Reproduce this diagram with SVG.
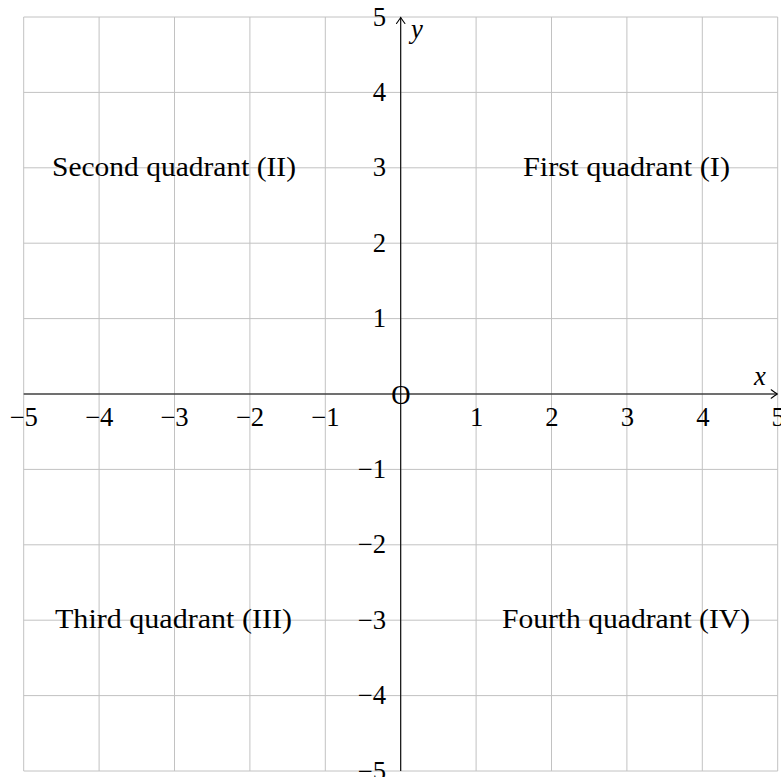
<svg xmlns="http://www.w3.org/2000/svg" width="781" height="777" viewBox="0 0 781 777">
<style>
.grid{stroke:#c2c2c2;stroke-width:1;fill:none}
.axis{stroke:#000;stroke-width:1.1;fill:none}
.t{font-family:"Liberation Serif","Times New Roman",serif;font-size:26.7px;fill:#000}
.c{text-anchor:middle}
.e{text-anchor:end}
.i{font-style:italic}
</style>
<defs>
<marker id="arr" markerUnits="userSpaceOnUse" markerWidth="12" markerHeight="12" viewBox="-8 -6 10 12" refX="0" refY="0" orient="auto">
<path d="M -6 -4.2 Q -1.5 -1 0 0 Q -1.5 1 -6 4.2" stroke="#000" stroke-width="1.1" fill="none" stroke-linecap="round"/>
</marker>
</defs>
<rect width="781" height="777" fill="#fff"/>
<g id="grid">
<path class="grid" d="M23.7 17V771M99.1 17V771M174.5 17V771M249.9 17V771M325.3 17V771M400.7 17V771M476.1 17V771M551.5 17V771M626.9 17V771M702.3 17V771M777.7 17V771"/>
<path class="grid" d="M23.7 17H777.7M23.7 92.4H777.7M23.7 167.8H777.7M23.7 243.2H777.7M23.7 318.6H777.7M23.7 394H777.7M23.7 469.4H777.7M23.7 544.8H777.7M23.7 620.2H777.7M23.7 695.6H777.7M23.7 771H777.7"/>
</g>
<g id="connectors">
<line class="axis" x1="23.7" y1="394" x2="777.2" y2="394" marker-end="url(#arr)"/>
<line class="axis" x1="400.7" y1="771" x2="400.7" y2="17.5" marker-end="url(#arr)"/>
</g>
<g id="axis-labels">
<text class="t i c" x="760" y="385">x</text>
<text class="t i c" x="417" y="38">y</text>
<text class="t c" x="401" y="403.5">O</text>
</g>
<g id="x-ticks">
<text class="t c" x="23.7" y="426">−5</text>
<text class="t c" x="99.1" y="426">−4</text>
<text class="t c" x="174.5" y="426">−3</text>
<text class="t c" x="249.9" y="426">−2</text>
<text class="t c" x="325.3" y="426">−1</text>
<text class="t c" x="476.6" y="426">1</text>
<text class="t c" x="552" y="426">2</text>
<text class="t c" x="627.4" y="426">3</text>
<text class="t c" x="702.8" y="426">4</text>
<text class="t c" x="778.2" y="426">5</text>
</g>
<g id="y-ticks">
<text class="t e" x="386" y="25.5">5</text>
<text class="t e" x="386" y="100.9">4</text>
<text class="t e" x="386" y="176.3">3</text>
<text class="t e" x="386" y="251.7">2</text>
<text class="t e" x="386" y="327.1">1</text>
<text class="t e" x="386" y="477.9">−1</text>
<text class="t e" x="386" y="553.3">−2</text>
<text class="t e" x="386" y="628.7">−3</text>
<text class="t e" x="386" y="704.1">−4</text>
<text class="t e" x="386" y="779.5">−5</text>
</g>
<g id="q1"><text class="t" x="523" y="176" textLength="207" lengthAdjust="spacingAndGlyphs">First quadrant (I)</text></g>
<g id="q2"><text class="t" x="52" y="176" textLength="244" lengthAdjust="spacingAndGlyphs">Second quadrant (II)</text></g>
<g id="q3"><text class="t" x="55" y="628" textLength="237" lengthAdjust="spacingAndGlyphs">Third quadrant (III)</text></g>
<g id="q4"><text class="t" x="502" y="628" textLength="248" lengthAdjust="spacingAndGlyphs">Fourth quadrant (IV)</text></g>
</svg>
